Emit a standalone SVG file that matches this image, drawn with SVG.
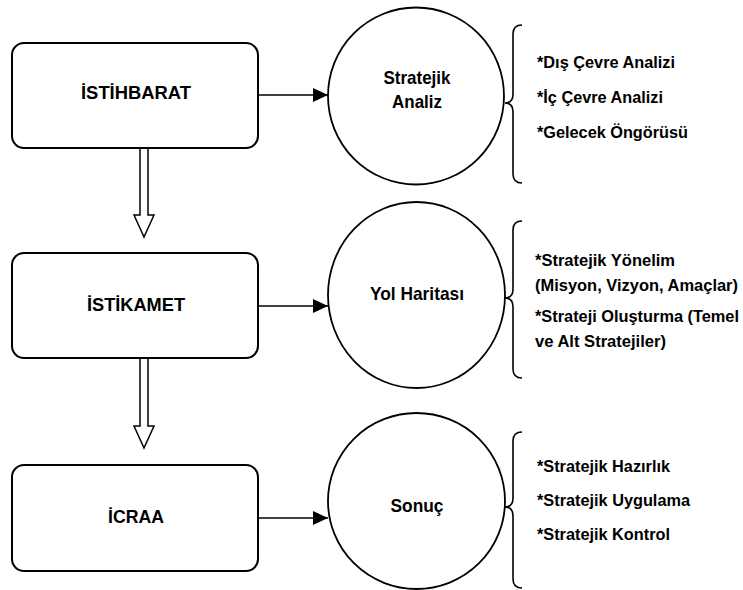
<svg xmlns="http://www.w3.org/2000/svg" width="743" height="590" viewBox="0 0 743 590">
<style>
.box{fill:#fff;stroke:#000;stroke-width:2}
.circ{fill:#fff;stroke:#000;stroke-width:1.8}
.brace{fill:none;stroke:#000;stroke-width:1.6}
.line{stroke:#000;stroke-width:1.6;fill:none}
.hollow{fill:#fff;stroke:#000;stroke-width:1.5;stroke-linejoin:miter}
.t{font-family:"Liberation Sans",Arial,sans-serif;font-weight:bold;fill:#000}
.bl{font-size:19px;text-anchor:middle}
.cl{font-size:18.5px;text-anchor:middle}
.rl{font-size:16.4px}
</style>
<defs>
<marker id="ah" markerWidth="16" markerHeight="14" refX="15" refY="7" orient="auto" markerUnits="userSpaceOnUse">
<path d="M0,0 L15,7 L0,14 Z" fill="#000"/>
</marker>
</defs>
<g id="connectors">
<line class="line" x1="258" y1="95" x2="328" y2="95" marker-end="url(#ah)"/>
<line class="line" x1="258" y1="306" x2="328" y2="306" marker-end="url(#ah)"/>
<line class="line" x1="258" y1="518" x2="328" y2="518" marker-end="url(#ah)"/>
<path class="hollow" d="M140,149 L140,215 L134,215 L144,237 L154,215 L148,215 L148,149"/>
<path class="hollow" d="M140,359 L140,426 L134,426 L144,448 L154,426 L148,426 L148,359"/>
</g>
<g id="node-istihbarat">
<rect class="box" x="12" y="43" width="246" height="105" rx="12"/>
<text class="t bl" x="136" y="99" textLength="110" lengthAdjust="spacingAndGlyphs">İSTİHBARAT</text>
</g>
<g id="node-istikamet">
<rect class="box" x="12" y="253" width="246" height="105" rx="12"/>
<text class="t bl" x="136" y="311" textLength="98" lengthAdjust="spacingAndGlyphs">İSTİKAMET</text>
</g>
<g id="node-icraa">
<rect class="box" x="12" y="465" width="246" height="106" rx="12"/>
<text class="t bl" x="136" y="523" textLength="56" lengthAdjust="spacingAndGlyphs">İCRAA</text>
</g>
<g id="node-stratejik-analiz">
<ellipse class="circ" cx="416" cy="96" rx="88" ry="88.5"/>
<text class="t cl" x="417" y="84" textLength="67" lengthAdjust="spacingAndGlyphs">Stratejik</text>
<text class="t cl" x="417" y="108" textLength="50" lengthAdjust="spacingAndGlyphs">Analiz</text>
</g>
<g id="node-yol-haritasi">
<ellipse class="circ" cx="416.5" cy="295" rx="88.5" ry="93"/>
<text class="t cl" x="417" y="300" textLength="94" lengthAdjust="spacingAndGlyphs">Yol Haritası</text>
</g>
<g id="node-sonuc">
<ellipse class="circ" cx="416.5" cy="501" rx="88.5" ry="88"/>
<text class="t cl" x="417" y="512" textLength="53" lengthAdjust="spacingAndGlyphs">Sonuç</text>
</g>
<g id="brace-1">
<path class="brace" d="M522,25 Q513,25 513,34 L513,94 Q513,103 505,103 Q513,103 513,112 L513,174 Q513,183 522,183"/>
<text class="t rl" x="537" y="68" textLength="138" lengthAdjust="spacingAndGlyphs">*Dış Çevre Analizi</text>
<text class="t rl" x="537" y="103" textLength="126" lengthAdjust="spacingAndGlyphs">*İç Çevre Analizi</text>
<text class="t rl" x="537" y="138" textLength="151" lengthAdjust="spacingAndGlyphs">*Gelecek Öngörüsü</text>
</g>
<g id="brace-2">
<path class="brace" d="M522,221 Q513,221 513,230 L513,289 Q513,298 505,298 Q513,298 513,307 L513,369 Q513,378 522,378"/>
<text class="t rl" x="535" y="266" textLength="140" lengthAdjust="spacingAndGlyphs">*Stratejik Yönelim</text>
<text class="t rl" x="535" y="291" textLength="203" lengthAdjust="spacingAndGlyphs">(Misyon, Vizyon, Amaçlar)</text>
<text class="t rl" x="535" y="322" textLength="204" lengthAdjust="spacingAndGlyphs">*Strateji Oluşturma (Temel</text>
<text class="t rl" x="535" y="347" textLength="131" lengthAdjust="spacingAndGlyphs">ve Alt Stratejiler)</text>
</g>
<g id="brace-3">
<path class="brace" d="M522,432 Q513,432 513,441 L513,498 Q513,507 505,507 Q513,507 513,516 L513,579 Q513,588 522,588"/>
<text class="t rl" x="537" y="472" textLength="133" lengthAdjust="spacingAndGlyphs">*Stratejik Hazırlık</text>
<text class="t rl" x="537" y="506" textLength="153" lengthAdjust="spacingAndGlyphs">*Stratejik Uygulama</text>
<text class="t rl" x="537" y="540" textLength="133" lengthAdjust="spacingAndGlyphs">*Stratejik Kontrol</text>
</g>
</svg>
